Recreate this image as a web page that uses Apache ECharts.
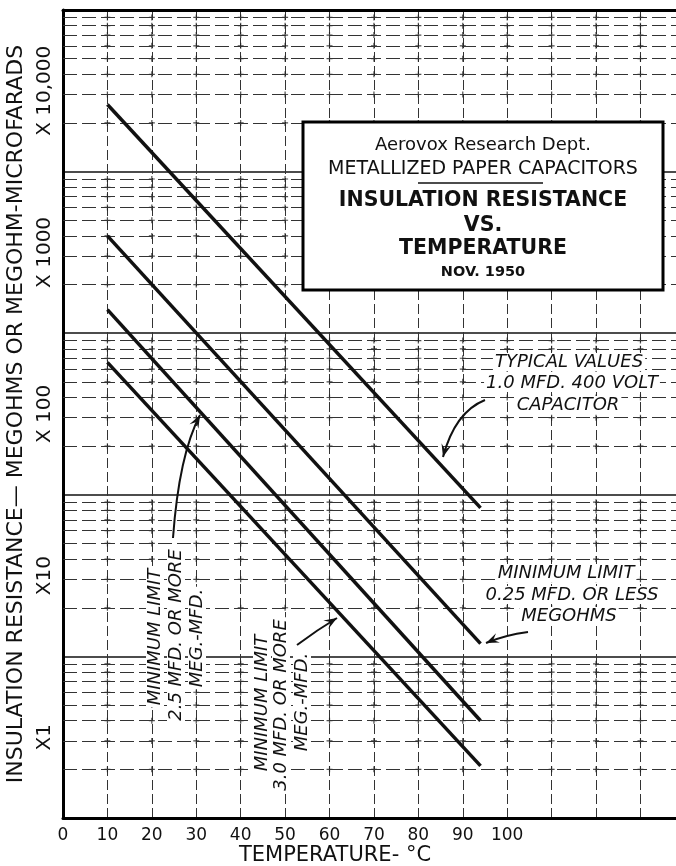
<!DOCTYPE html>
<html>
<head>
<meta charset="utf-8">
<script src="https://cdn.jsdelivr.net/npm/echarts@6.0.0/dist/echarts.min.js"></script>
<style>
  html, body { margin: 0; padding: 0; background: #fff; }
  #chart { width: 676px; height: 866px; }
</style>
</head>
<body>
<div id="chart"></div>
<script>
// temperature (°C) at both ends of each line
const temps = [10, 94];
// insulation resistance, megohms or megohm-microfarads
const typical1mfd = [26000, 83];
const minQuarterMfd = [4000, 12];
const min25Mfd = [1400, 4.0];
const min30Mfd = [660, 2.1];

// tick labels
const xTickLabels = ['0', '10', '20', '30', '40', '50', '60', '70', '80', '90', '100'];
const decadeLabels = ['X1', 'X10', 'X 100', 'X 1000', 'X 10,000'];

// log paper grid
const gridTemps = [10, 20, 30, 40, 50, 60, 70, 80, 90, 100, 110, 120, 130];
const decades = [1, 10, 100, 1000, 10000];
const minorSteps = [2, 3, 4, 5, 6, 7, 8, 9];

const FONT = 'DejaVu Sans';
const INK = '#111';

const minorValues = [];
decades.forEach(d => minorSteps.forEach(m => minorValues.push(d * m)));
const crossPoints = [];
gridTemps.forEach(t => minorValues.forEach(v => crossPoints.push([t, v])));

const pair = arr => temps.map((t, i) => [t, arr[i]]);

const lineSeries = (name, arr) => ({
  name: name,
  type: 'line',
  data: pair(arr),
  symbol: 'none',
  silent: true,
  z: 5,
  lineStyle: { color: INK, width: 3.5 }
});

// arrow head as a small barbed polygon
const arrowHead = (tip, from) => {
  const dx = tip[0] - from[0], dy = tip[1] - from[1];
  const len = Math.sqrt(dx * dx + dy * dy);
  const ux = dx / len, uy = dy / len;
  const px = -uy, py = ux;
  const L = 13, W = 5;
  return [
    tip,
    [tip[0] - ux * L + px * W, tip[1] - uy * L + py * W],
    [tip[0] - ux * L * 0.6, tip[1] - uy * L * 0.6],
    [tip[0] - ux * L - px * W, tip[1] - uy * L - py * W]
  ];
};

const arrow = (start, ctrl, tip) => [
  {
    type: 'bezierCurve',
    shape: { x1: start[0], y1: start[1], x2: tip[0], y2: tip[1], cpx1: ctrl[0], cpy1: ctrl[1] },
    style: { stroke: INK, lineWidth: 2, fill: null },
    z: 20
  },
  {
    type: 'polygon',
    shape: { points: arrowHead(tip, ctrl) },
    style: { fill: INK },
    z: 20
  }
];

const note = (text, x, y, opts) => Object.assign({
  type: 'text',
  x: x,
  y: y,
  z: 15,
  style: {
    text: text,
    fill: INK,
    font: 'italic 18px "' + FONT + '"',
    textAlign: 'center',
    textVerticalAlign: 'middle',
    backgroundColor: '#fff',
    padding: [0, 2]
  }
}, opts || {});

const vnote = (text, x, y) => note(text, x, y, { rotation: Math.PI / 2 });

const boxText = (text, y, font) => ({
  type: 'text',
  x: 483,
  y: y,
  z: 31,
  style: {
    text: text,
    fill: INK,
    font: font,
    textAlign: 'center',
    textVerticalAlign: 'middle'
  }
});

const chart = echarts.init(document.getElementById('chart'), null, { renderer: 'canvas' });

chart.setOption({
  animation: false,
  backgroundColor: '#fff',
  grid: { left: 63, right: 0, top: 10, bottom: 48, containLabel: false, outerBoundsMode: 'none' },
  xAxis: [
    {
      type: 'value',
      min: 0,
      max: 138,
      interval: 10,
      position: 'bottom',
      axisLine: { show: true, lineStyle: { color: '#000', width: 3 } },
      axisTick: { show: false },
      axisLabel: {
        margin: 9,
        fontSize: 17,
        fontFamily: FONT,
        color: INK,
        formatter: v => xTickLabels[v / 10] || ''
      },
      splitLine: { show: true, lineStyle: { color: '#333', width: 1, type: [10, 4] } }
    },
    {
      type: 'value',
      min: 0,
      max: 138,
      position: 'top',
      axisLine: { show: true, lineStyle: { color: '#000', width: 3 } },
      axisTick: { show: false },
      axisLabel: { show: false },
      splitLine: { show: false }
    }
  ],
  yAxis: [
    {
      type: 'log',
      logBase: 10,
      min: 1,
      max: 100000,
      position: 'left',
      axisLine: { show: true, lineStyle: { color: '#000', width: 3 } },
      axisTick: { show: false },
      axisLabel: { show: false },
      splitLine: { show: true, lineStyle: { color: INK, width: 1.5 } }
    },
    {
      type: 'value',
      min: 0,
      max: 10,
      interval: 1,
      position: 'left',
      axisLine: { show: false },
      axisTick: { show: false },
      splitLine: { show: false },
      axisLabel: {
        rotate: 90,
        margin: 8,
        fontSize: 20,
        fontFamily: FONT,
        color: INK,
        formatter: v => (v % 2 === 1 ? decadeLabels[(v - 1) / 2] : '')
      },
      name: 'INSULATION RESISTANCE\u2014 MEGOHMS OR MEGOHM-MICROFARADS',
      nameLocation: 'middle',
      nameRotate: 90,
      nameGap: 32,
      nameTextStyle: { fontSize: 22, fontFamily: FONT, color: INK }
    }
  ],
  series: [
    {
      name: 'paper',
      type: 'scatter',
      data: crossPoints,
      symbol: 'path://M4,0H6V4H10V6H6V10H4V6H0V4H4Z',
      symbolSize: 6,
      silent: true,
      z: 2,
      itemStyle: { color: '#222' },
      markLine: {
        silent: true,
        symbol: ['none', 'none'],
        label: { show: false },
        lineStyle: { color: '#333', width: 1, type: [14, 5] },
        data: minorValues.map(v => ({ yAxis: v }))
      }
    },
    lineSeries('Typical 1.0 MFD 400 V', typical1mfd),
    lineSeries('Min 0.25 MFD or less', minQuarterMfd),
    lineSeries('Min 2.5 MFD or more', min25Mfd),
    lineSeries('Min 3.0 MFD or more', min30Mfd)
  ],
  graphic: [
    // title box
    {
      type: 'rect',
      shape: { x: 303, y: 122, width: 360, height: 168 },
      style: { fill: '#fff', stroke: '#000', lineWidth: 3 },
      z: 30
    },
    boxText('Aerovox Research Dept.', 145, '18px "' + FONT + '"'),
    boxText('METALLIZED PAPER CAPACITORS', 169, '19px "' + FONT + '"'),
    {
      type: 'line',
      shape: { x1: 418, y1: 183, x2: 543, y2: 183 },
      style: { stroke: INK, lineWidth: 1.5 },
      z: 31
    },
    boxText('INSULATION RESISTANCE', 201, 'bold 20.5px "' + FONT + '"'),
    boxText('VS.', 226, 'bold 20.5px "' + FONT + '"'),
    boxText('TEMPERATURE', 249, 'bold 20.5px "' + FONT + '"'),
    boxText('NOV. 1950', 272, 'bold 14.5px "' + FONT + '"'),

    // x axis title
    {
      type: 'text',
      x: 335,
      y: 856,
      style: {
        text: 'TEMPERATURE- \u00B0C',
        fill: INK,
        font: '21px "' + FONT + '"',
        textAlign: 'center',
        textVerticalAlign: 'middle'
      }
    },

    // notes
    note('TYPICAL VALUES', 569, 362),
    note('1.0 MFD. 400 VOLT', 572, 383),
    note('CAPACITOR', 568, 405),
    note('MINIMUM LIMIT', 566, 573),
    note('0.25 MFD. OR LESS', 572, 595),
    note('MEGOHMS', 569, 616),
    vnote('MINIMUM LIMIT', 155, 637),
    vnote('2.5 MFD. OR MORE', 176, 635),
    vnote('MEG.-MFD.', 197, 638),
    vnote('MINIMUM LIMIT', 262, 703),
    vnote('3.0 MFD. OR MORE', 281, 705),
    vnote('MEG.-MFD.', 302, 702),

    ...arrow([485, 400], [455, 412], [443, 457]),
    ...arrow([528, 632], [505, 635], [486, 643]),
    ...arrow([173, 538], [179, 455], [200, 415]),
    ...arrow([297, 645], [317, 630], [337, 618])
  ]
});
</script>
</body>
</html>
